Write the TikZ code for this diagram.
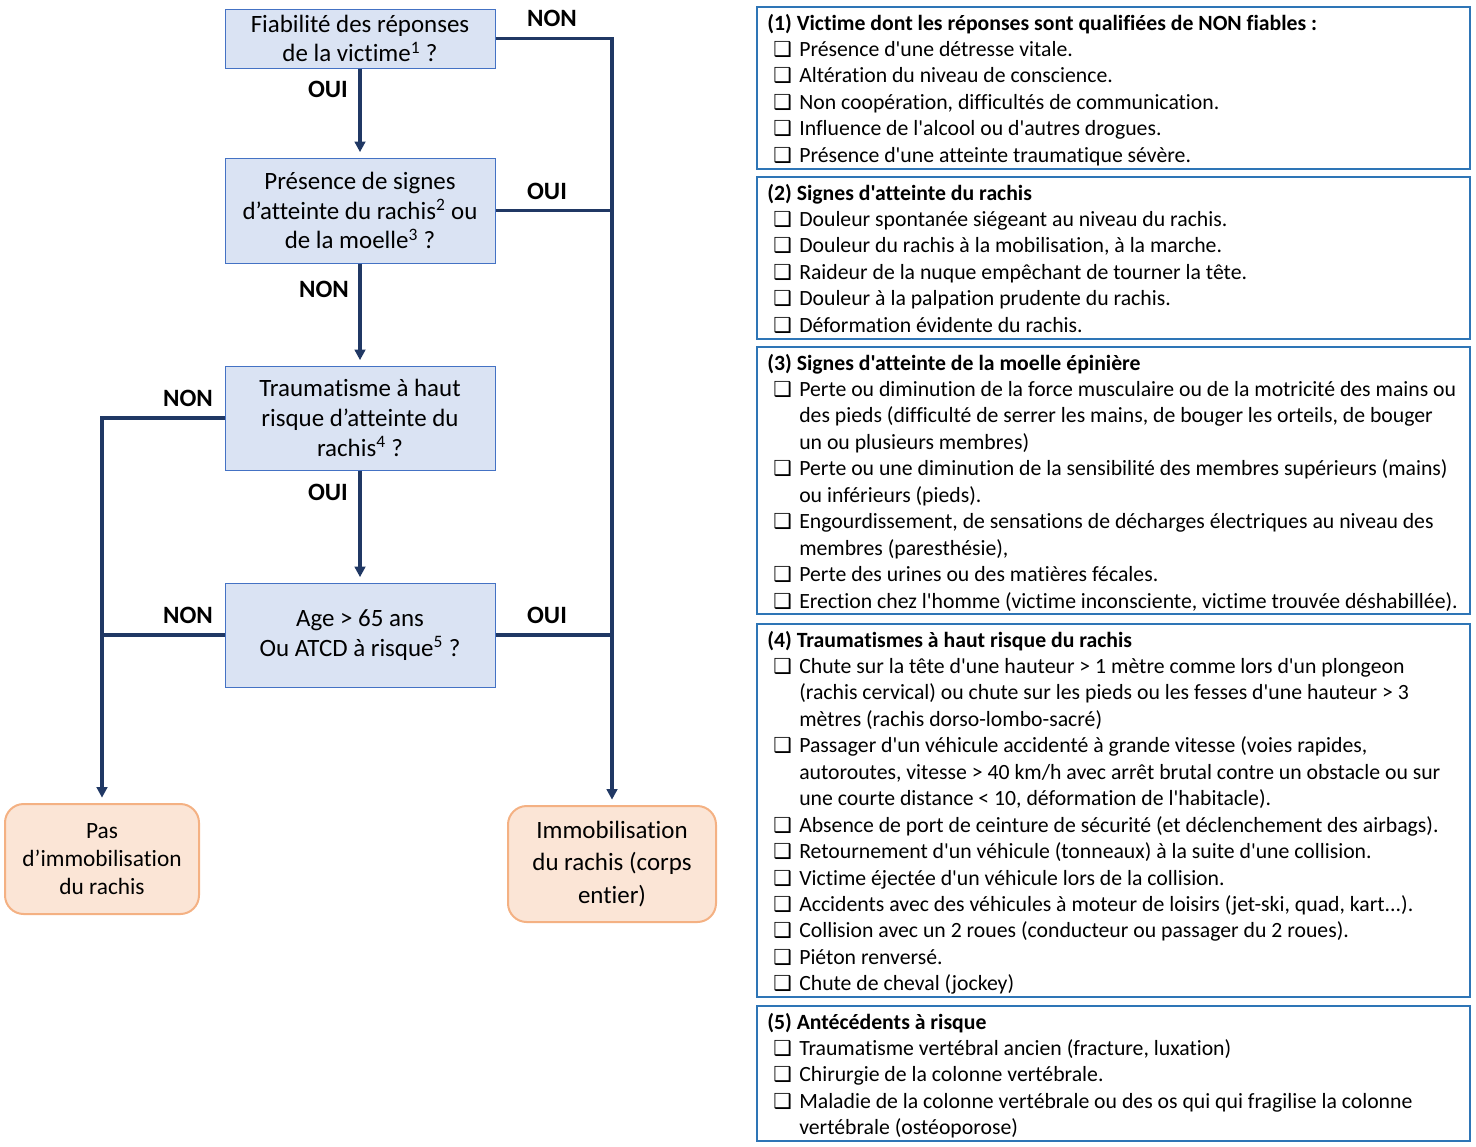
\documentclass[tikz,border=0pt]{standalone}
\usepackage{fontspec}
\setmainfont{Carlito}[Ligatures={TeX,NoCommon}]
\newfontfamily\pf{Carlito}[Ligatures=NoCommon]
\newfontfamily\symf{DejaVu Sans}
\usetikzlibrary{arrows.meta}

\definecolor{navy}{HTML}{203864}
\definecolor{qfill}{HTML}{DAE3F3}
\definecolor{qdraw}{HTML}{4472C4}
\definecolor{ofill}{HTML}{FBE5D6}
\definecolor{odraw}{HTML}{F4B183}
\definecolor{pdraw}{HTML}{2E75B6}

\newcommand\cbx{\hspace*{4.5pt}\makebox[19.5pt][l]{\symf\fontsize{15.5}{16}\selectfont ❑}}
\newcommand\cnt{\hspace*{24pt}}
\newcommand\ttl[1]{\textbf{#1}}
\newcommand\panellines[3]{%
  \foreach \lntxt [count=\i from 0] in {#3} {%
    \node[ptext] (#1-\i) at (767, #2+\i*26.45) {\lntxt};
  }}

\tikzset{
  qbox/.style={draw=qdraw, fill=qfill, line width=0.75pt, minimum width=202.5pt,
    align=center, font=\fontsize{18.7}{22.2}\selectfont, inner sep=0pt},
  obox/.style={draw=odraw, fill=ofill, line width=1.5pt, rounded corners=14pt,
    align=center, inner sep=0pt},
  pbox/.style={draw=pdraw, line width=1.5pt, minimum width=534.75pt, inner sep=0pt},
  ptext/.style={anchor=base west, inner sep=0pt, font=\pf\fontsize{16.3}{18}\selectfont},
  lbl/.style={font=\bfseries\fontsize{18.7}{22}\selectfont, inner sep=0pt},
  line/.style={draw=navy, line width=2.6pt},
  conn/.style={line, -{Triangle[length=8pt,width=8pt]}, shorten >=4pt},
}

\begin{document}
\begin{tikzpicture}[x=0.75pt, y=-0.75pt]
\useasboundingbox (0,0) rectangle (1476,1146);

% flowchart boxes
\node[qbox, minimum height=44.25pt] (qa) at (360,38.5) {Fiabilité des réponses\\de la victime\textsuperscript{1} ?};
\node[qbox, minimum height=78.75pt] (qb) at (360,210.5) {Présence de signes\\d’atteinte du rachis\textsuperscript{2} ou\\de la moelle\textsuperscript{3} ?};
\node[qbox, minimum height=78pt] (qc) at (360,418) {Traumatisme à haut\\risque d’atteinte du\\rachis\textsuperscript{4} ?};
\node[qbox, minimum height=78pt] (qd) at (360,635) {Age > 65 ans\\Ou ATCD à risque\textsuperscript{5} ?};

\node[obox, minimum width=145.5pt, minimum height=82.5pt, font=\fontsize{17.5}{21}\selectfont] (outL) at (102,859) {Pas\\d’immobilisation\\du rachis};
\node[obox, minimum width=156pt, minimum height=87pt, font=\fontsize{18.7}{24.4}\selectfont] (outR) at (612,864) {Immobilisation\\du rachis (corps\\entier)};

% connectors
\draw[conn] (qa.south) -- (qb.north);
\draw[conn] (qb.south) -- (qc.north);
\draw[conn] (qc.south) -- (qd.north);
\draw[conn] (qa.east) -| (outR.north);
\draw[line] (qb.east) -- (qb.east -| outR.north);
\draw[line] (qd.east) -- (qd.east -| outR.north);
\draw[conn] (qc.west) -| (outL.north);
\draw[line] (qd.west) -- (qd.west -| outL.north);

% labels
\node[lbl] (l1) at (552,18) {NON};
\node[lbl] (l2) at (328,89) {OUI};
\node[lbl] (l3) at (547,191) {OUI};
\node[lbl] (l4) at (324,289) {NON};
\node[lbl] (l5) at (188,398) {NON};
\node[lbl] (l6) at (328,492) {OUI};
\node[lbl] (l7) at (188,615) {NON};
\node[lbl] (l8) at (547,615) {OUI};

% right panel boxes
\node[pbox, minimum height=121.5pt] (p1) at (1113.5,88) {};
\node[pbox, minimum height=121.5pt] (p2) at (1113.5,258) {};
\node[pbox, minimum height=200.25pt] (p3) at (1113.5,480.5) {};
\node[pbox, minimum height=279.75pt] (p4) at (1113.5,810.5) {};
\node[pbox, minimum height=101.25pt] (p5) at (1113.5,1073.5) {};

\panellines{t1}{30}{
  {\ttl{(1) Victime dont les réponses sont qualifiées de NON fiables :}},
  {\cbx Présence d'une détresse vitale.},
  {\cbx Altération du niveau de conscience.},
  {\cbx Non coopération, difficultés de communication.},
  {\cbx Influence de l'alcool ou d'autres drogues.},
  {\cbx Présence d'une atteinte traumatique sévère.}}

\panellines{t2}{200}{
  {\ttl{(2) Signes d'atteinte du rachis}},
  {\cbx Douleur spontanée siégeant au niveau du rachis.},
  {\cbx Douleur du rachis à la mobilisation, à la marche.},
  {\cbx Raideur de la nuque empêchant de tourner la tête.},
  {\cbx Douleur à la palpation prudente du rachis.},
  {\cbx Déformation évidente du rachis.}}

\panellines{t3}{370}{
  {\ttl{(3) Signes d'atteinte de la moelle épinière}},
  {\cbx Perte ou diminution de la force musculaire ou de la motricité des mains ou},
  {\cnt des pieds (difficulté de serrer les mains, de bouger les orteils, de bouger},
  {\cnt un ou plusieurs membres)},
  {\cbx Perte ou une diminution de la sensibilité des membres supérieurs (mains)},
  {\cnt ou inférieurs (pieds).},
  {\cbx Engourdissement, de sensations de décharges électriques au niveau des},
  {\cnt membres (paresthésie),},
  {\cbx Perte des urines ou des matières fécales.},
  {\cbx Erection chez l'homme (victime inconsciente, victime trouvée déshabillée).}}

\panellines{t4}{647}{
  {\ttl{(4) Traumatismes à haut risque du rachis}},
  {\cbx Chute sur la tête d'une hauteur > 1 mètre comme lors d'un plongeon},
  {\cnt (rachis cervical) ou chute sur les pieds ou les fesses d'une hauteur > 3},
  {\cnt mètres (rachis dorso-lombo-sacré)},
  {\cbx Passager d'un véhicule accidenté à grande vitesse (voies rapides,},
  {\cnt autoroutes, vitesse > 40 km/h avec arrêt brutal contre un obstacle ou sur},
  {\cnt une courte distance < 10, déformation de l'habitacle).},
  {\cbx Absence de port de ceinture de sécurité (et déclenchement des airbags).},
  {\cbx Retournement d'un véhicule (tonneaux) à la suite d'une collision.},
  {\cbx Victime éjectée d'un véhicule lors de la collision.},
  {\cbx Accidents avec des véhicules à moteur de loisirs (jet-ski, quad, kart.{}.{}.).},
  {\cbx Collision avec un 2 roues (conducteur ou passager du 2 roues).},
  {\cbx Piéton renversé.},
  {\cbx Chute de cheval (jockey)}}

\panellines{t5}{1029}{
  {\ttl{(5) Antécédents à risque}},
  {\cbx Traumatisme vertébral ancien (fracture, luxation)},
  {\cbx Chirurgie de la colonne vertébrale.},
  {\cbx Maladie de la colonne vertébrale ou des os qui qui fragilise la colonne},
  {\cnt vertébrale (ostéoporose)}}
\end{tikzpicture}
\end{document}
